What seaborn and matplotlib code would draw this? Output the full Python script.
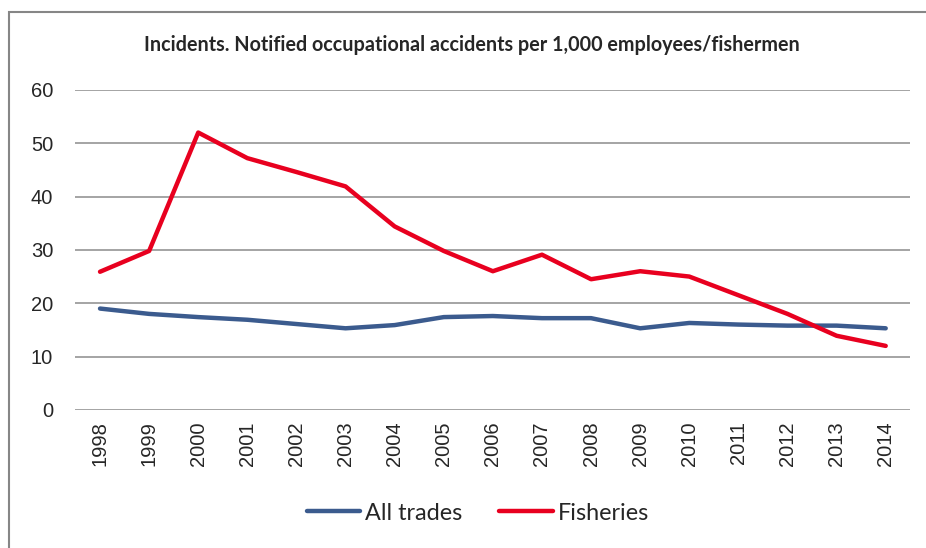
import matplotlib
matplotlib.use("Agg")
import matplotlib.pyplot as plt
import matplotlib.patches as mpatches
import pandas as pd
import seaborn as sns

years = [str(y) for y in range(1998, 2015)]
all_trades = [19.0, 18.0, 17.4, 16.9, 16.1, 15.3, 15.9, 17.4, 17.6, 17.2, 17.2,
              15.3, 16.3, 16.0, 15.8, 15.8, 15.3]
fisheries = [25.9, 29.8, 52.0, 47.2, 44.6, 41.9, 34.4, 29.8, 26.0, 29.1, 24.5,
             26.0, 25.0, 21.5, 18.0, 13.9, 12.0]
series_names = ["All trades", "Fisheries"]
colors = ["#3B5B8E", "#E8001F"]

df = pd.DataFrame({
    "year": years * 2,
    "value": all_trades + fisheries,
    "series": [series_names[0]] * len(years) + [series_names[1]] * len(years),
})

sns.set_style("white")
plt.rcParams["font.family"] = ["Liberation Sans", "DejaVu Sans"]

fig = plt.figure(figsize=(9.26, 5.48), dpi=100)
ax = fig.add_axes([0.0815, 0.252, 0.9015, 0.584])

# outer chart frame (left and top edges visible)
fig.patches.append(mpatches.Rectangle((9 / 926, -0.1), 1.2, 1 - 12 / 548 + 0.1,
                                      transform=fig.transFigure, fill=False,
                                      edgecolor="#868686", linewidth=1.5))

sns.lineplot(data=df, x="year", y="value", hue="series", palette=colors,
             linewidth=3.2, sort=False, ax=ax, legend=False)

ax.set_xlim(-0.5, len(years) - 0.5)
ax.set_ylim(0, 60)
ax.set_yticks(range(0, 61, 10))
ax.yaxis.grid(True, color="#8C8C8C", linewidth=1.1)
ax.set_axisbelow(True)
for s in ax.spines.values():
    s.set_visible(False)
ax.tick_params(axis="x", labelrotation=90, labelsize=14.5, length=0, pad=8)
ax.tick_params(axis="y", labelsize=14.5, length=0, pad=16)
ax.set_xlabel("")
ax.set_ylabel("")

fig.text(0.51, 1 - 45 / 548, "Incidents. Notified occupational accidents per 1,000 employees/fishermen",
         ha="center", va="center", fontsize=14.2, fontweight="bold", family=["Lato", "DejaVu Sans"])

handles = [plt.Line2D([], [], color=c, linewidth=3.2) for c in colors]
fig.legend(handles, series_names, loc="center", bbox_to_anchor=(0.516, 1 - 513 / 548),
           ncol=2, frameon=False, handlelength=2.3, handletextpad=0.2, columnspacing=1.6,
           prop={"family": ["Lato", "DejaVu Sans"], "size": 16.8})

fig.savefig("out.png", dpi=100)
